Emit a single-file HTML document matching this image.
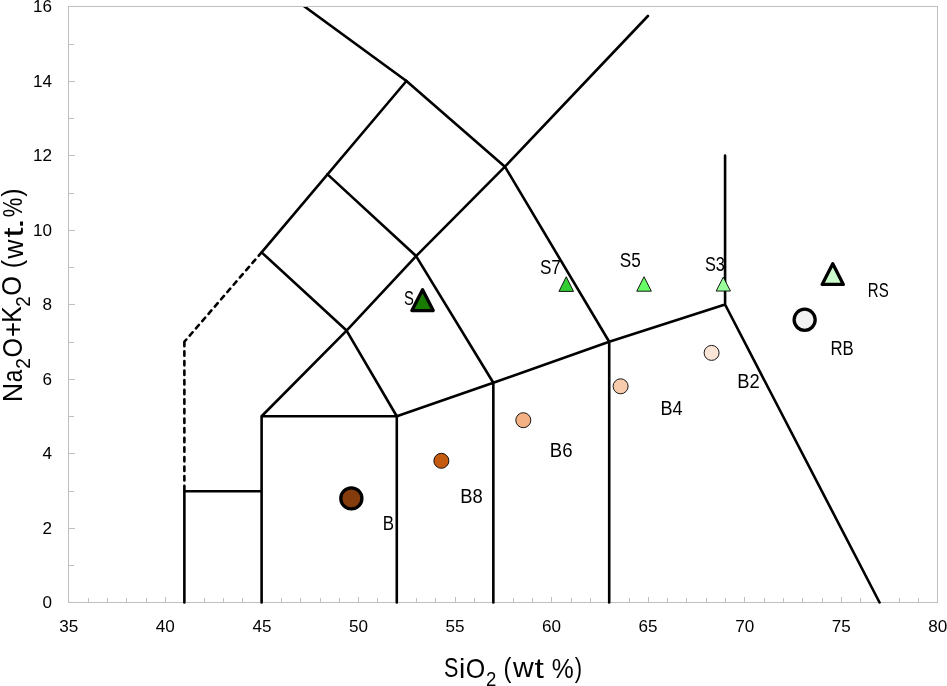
<!DOCTYPE html><html><head><meta charset="utf-8"><style>html,body{margin:0;padding:0;background:#fff;}svg{display:block;will-change:transform;}text{font-family:"Liberation Sans",sans-serif;fill:#000;}</style></head><body>
<svg width="947" height="686" viewBox="0 0 947 686">
<rect width="947" height="686" fill="#fff"/>
<path d="M88.5,598V602M107.5,598V602M126.5,598V602M146.5,598V602M165.5,597V602M184.5,598V602M204.5,598V602M223.5,598V602M242.5,598V602M262.5,597V602M281.5,598V602M300.5,598V602M320.5,598V602M339.5,598V602M358.5,597V602M377.5,598V602M397.5,598V602M416.5,598V602M435.5,598V602M455.5,597V602M474.5,598V602M493.5,598V602M513.5,598V602M532.5,598V602M551.5,597V602M571.5,598V602M590.5,598V602M609.5,598V602M629.5,598V602M648.5,597V602M667.5,598V602M686.5,598V602M706.5,598V602M725.5,598V602M744.5,597V602M764.5,598V602M783.5,598V602M802.5,598V602M822.5,598V602M841.5,597V602M860.5,598V602M899.5,598V602M918.5,598V602M69,565.5H74M69,528.5H75M69,491.5H74M69,453.5H75M69,416.5H74M69,379.5H75M69,342.5H74M69,304.5H75M69,267.5H74M69,230.5H75M69,193.5H74M69,155.5H75M69,118.5H74M69,81.5H75M69,44.5H74" stroke="#bfbfbf" stroke-width="1" fill="none"/>
<rect x="68.5" y="6.5" width="869" height="596" fill="none" stroke="#bfbfbf" stroke-width="1"/>
<path d="M261.61,602.50 L261.61,416.25 L396.79,416.25M396.79,602.50 L396.79,416.25 L493.34,382.73 L609.21,341.75 L725.08,304.50 L879.57,602.50M493.34,602.50 L493.34,382.73M609.21,602.50 L609.21,341.75M725.08,304.50 L725.08,155.50M261.61,416.25 L346.58,330.57 L416.10,256.07 L504.93,166.68M346.58,330.57 L396.79,416.25M416.10,256.07 L493.34,382.73M504.93,166.68 L609.21,341.75M261.61,252.35 L346.58,330.57M261.61,252.35 L406.44,81.00M327.27,174.12 L416.10,256.07M406.44,81.00 L504.93,166.68M504.93,166.68 L647.9,16.0M184.37,602.50 L184.37,491.2 L261.61,491.2" stroke="#000" stroke-width="2.6" fill="none" stroke-linecap="round" stroke-linejoin="round"/>
<clipPath id="pc"><rect x="60" y="7" width="880" height="600"/></clipPath><path clip-path="url(#pc)" d="M406.44,81.00 L295.6,0" stroke="#000" stroke-width="2.6" fill="none" stroke-linecap="round"/>
<path d="M261.61,252.35 L184.37,341.75 M184.37,341.75 L184.37,491.2" stroke="#000" stroke-width="2.6" fill="none" stroke-linecap="round" stroke-linejoin="round" stroke-dasharray="4.4 5.2"/>
<path d="M566.25,276.75 L573.55,291.4 L558.95,291.4Z" fill="#33cc33" stroke="#000" stroke-width="0.9" stroke-linejoin="round"/>
<path d="M644.05,276.75 L651.3499999999999,291.2 L636.75,291.2Z" fill="#66ff66" stroke="#000" stroke-width="0.9" stroke-linejoin="round"/>
<path d="M723.3,277.1 L730.4499999999999,291.05 L716.15,291.05Z" fill="#99ff99" stroke="#000" stroke-width="0.9" stroke-linejoin="round"/>
<path d="M422.57,289.65 L433.24,310.55 L411.9,310.55Z" fill="#197b00" stroke="#000" stroke-width="3.3" stroke-linejoin="round"/>
<path d="M832.75,263.65 L843.35,284.45 L822.15,284.45Z" fill="#ccffcc" stroke="#000" stroke-width="3.3" stroke-linejoin="round"/>
<circle cx="351.35" cy="498.4" r="10.55" fill="#843c0c" stroke="#000" stroke-width="3.3"/>
<circle cx="441.35" cy="460.8" r="7.5" fill="#c55a11" stroke="#000" stroke-width="0.9"/>
<circle cx="523.3" cy="420.2" r="7.5" fill="#f4b183" stroke="#000" stroke-width="0.9"/>
<circle cx="620.6" cy="386.3" r="7.5" fill="#f8cbad" stroke="#000" stroke-width="0.9"/>
<circle cx="711.6" cy="352.9" r="7.5" fill="#fbe5d6" stroke="#000" stroke-width="0.9"/>
<circle cx="804.65" cy="319.76" r="10.55" fill="#f2f2f2" stroke="#000" stroke-width="3.3"/>
<text x="403.90" y="304.92" font-size="19.4" textLength="9.89" lengthAdjust="spacingAndGlyphs">S</text>
<text x="539.93" y="274.40" font-size="19.4" textLength="20.94" lengthAdjust="spacingAndGlyphs">S7</text>
<text x="619.86" y="267.05" font-size="19.4" textLength="21.00" lengthAdjust="spacingAndGlyphs">S5</text>
<text x="704.93" y="271.44" font-size="19.4" textLength="19.96" lengthAdjust="spacingAndGlyphs">S3</text>
<text x="867.82" y="296.57" font-size="19.4" textLength="20.90" lengthAdjust="spacingAndGlyphs">RS</text>
<text x="830.45" y="354.75" font-size="19.4" textLength="23.25" lengthAdjust="spacingAndGlyphs">RB</text>
<text x="737.35" y="388.30" font-size="19.4" textLength="22.45" lengthAdjust="spacingAndGlyphs">B2</text>
<text x="660.40" y="415.35" font-size="19.4" textLength="22.10" lengthAdjust="spacingAndGlyphs">B4</text>
<text x="549.86" y="457.25" font-size="19.4" textLength="22.71" lengthAdjust="spacingAndGlyphs">B6</text>
<text x="460.35" y="503.25" font-size="19.4" textLength="22.46" lengthAdjust="spacingAndGlyphs">B8</text>
<text x="382.86" y="529.95" font-size="19.4" textLength="11.30" lengthAdjust="spacingAndGlyphs">B</text>
<text x="444.00" y="677.32" font-size="28.5" textLength="14.39" lengthAdjust="spacingAndGlyphs">S</text>
<text x="458.89" y="678.05" font-size="28.5" textLength="6.28" lengthAdjust="spacingAndGlyphs">i</text>
<text x="465.66" y="677.54" font-size="28.5" textLength="19.47" lengthAdjust="spacingAndGlyphs">O</text>
<text x="485.88" y="686.45" font-size="19.5" textLength="10.33" lengthAdjust="spacingAndGlyphs">2</text>
<text x="503.38" y="677.05" font-size="28.5" textLength="7.91" lengthAdjust="spacingAndGlyphs">(</text>
<text x="512.95" y="677.40" font-size="28.5" textLength="20.70" lengthAdjust="spacingAndGlyphs">w</text>
<text x="534.54" y="678.32" font-size="28.5" textLength="9.42" lengthAdjust="spacingAndGlyphs">t</text>
<text x="551.77" y="677.77" font-size="28.5" textLength="21.98" lengthAdjust="spacingAndGlyphs">%</text>
<text x="574.87" y="677.31" font-size="28.5" textLength="7.38" lengthAdjust="spacingAndGlyphs">)</text>
<text transform="translate(21.70,402.26) rotate(-90)" font-size="28.5" textLength="19.36" lengthAdjust="spacingAndGlyphs">N</text>
<text transform="translate(22.05,382.37) rotate(-90)" font-size="28.5" textLength="12.58" lengthAdjust="spacingAndGlyphs">a</text>
<text transform="translate(29.66,368.64) rotate(-90)" font-size="19.5" textLength="10.65" lengthAdjust="spacingAndGlyphs">2</text>
<text transform="translate(21.71,357.62) rotate(-90)" font-size="28.5" textLength="19.55" lengthAdjust="spacingAndGlyphs">O</text>
<text transform="translate(21.55,337.06) rotate(-90)" font-size="28.5" textLength="15.04" lengthAdjust="spacingAndGlyphs">+</text>
<text transform="translate(21.35,322.68) rotate(-90)" font-size="28.5" textLength="16.50" lengthAdjust="spacingAndGlyphs">K</text>
<text transform="translate(29.99,306.69) rotate(-90)" font-size="19.5" textLength="10.52" lengthAdjust="spacingAndGlyphs">2</text>
<text transform="translate(21.26,295.73) rotate(-90)" font-size="28.5" textLength="19.65" lengthAdjust="spacingAndGlyphs">O</text>
<text transform="translate(21.30,268.29) rotate(-90)" font-size="28.5" textLength="8.37" lengthAdjust="spacingAndGlyphs">(</text>
<text transform="translate(22.65,258.71) rotate(-90)" font-size="28.5" textLength="19.30" lengthAdjust="spacingAndGlyphs">w</text>
<text transform="translate(22.64,237.48) rotate(-90)" font-size="28.5" textLength="10.10" lengthAdjust="spacingAndGlyphs">t</text>
<text transform="translate(22.55,229.73) rotate(-90)" font-size="28.5" textLength="12.26" lengthAdjust="spacingAndGlyphs">.</text>
<text transform="translate(22.06,217.33) rotate(-90)" font-size="28.5" textLength="19.56" lengthAdjust="spacingAndGlyphs">%</text>
<text transform="translate(20.90,196.66) rotate(-90)" font-size="28.5" textLength="8.29" lengthAdjust="spacingAndGlyphs">)</text>
<text x="52.1" y="608.10" font-size="17.1" text-anchor="end">0</text>
<text x="52.1" y="533.60" font-size="17.1" text-anchor="end">2</text>
<text x="52.1" y="459.10" font-size="17.1" text-anchor="end">4</text>
<text x="52.1" y="384.60" font-size="17.1" text-anchor="end">6</text>
<text x="52.1" y="310.10" font-size="17.1" text-anchor="end">8</text>
<text x="52.1" y="235.60" font-size="17.1" text-anchor="end">10</text>
<text x="52.1" y="161.10" font-size="17.1" text-anchor="end">12</text>
<text x="52.1" y="86.60" font-size="17.1" text-anchor="end">14</text>
<text x="52.1" y="12.10" font-size="17.1" text-anchor="end">16</text>
<text x="68.80" y="632.45" font-size="17.1" text-anchor="middle">35</text>
<text x="165.36" y="632.45" font-size="17.1" text-anchor="middle">40</text>
<text x="261.91" y="632.45" font-size="17.1" text-anchor="middle">45</text>
<text x="358.47" y="632.45" font-size="17.1" text-anchor="middle">50</text>
<text x="455.02" y="632.45" font-size="17.1" text-anchor="middle">55</text>
<text x="551.58" y="632.45" font-size="17.1" text-anchor="middle">60</text>
<text x="648.13" y="632.45" font-size="17.1" text-anchor="middle">65</text>
<text x="744.69" y="632.45" font-size="17.1" text-anchor="middle">70</text>
<text x="841.24" y="632.45" font-size="17.1" text-anchor="middle">75</text>
<text x="937.80" y="632.45" font-size="17.1" text-anchor="middle">80</text>
</svg></body></html>
